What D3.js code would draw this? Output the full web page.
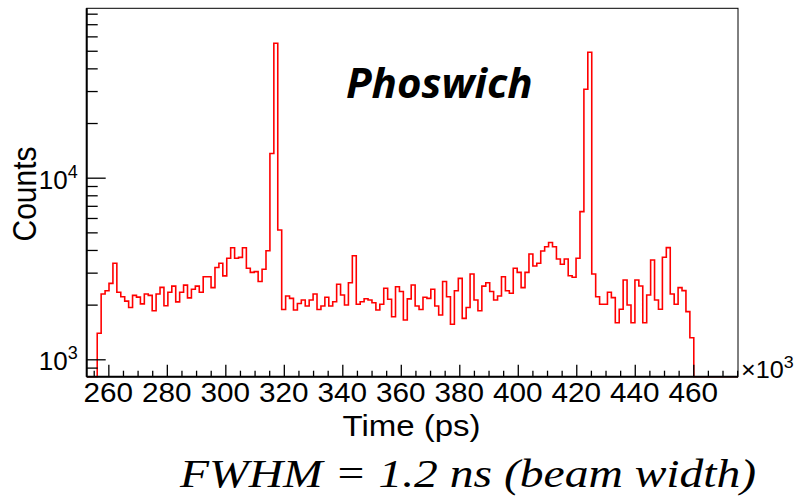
<!DOCTYPE html>
<html>
<head>
<meta charset="utf-8">
<script src="https://cdn.jsdelivr.net/npm/d3@7"></script>
<style>
  html, body { margin: 0; padding: 0; background: #fff; }
  #chart { width: 800px; height: 498px; }
</style>
</head>
<body>
<div id="chart"></div>
<script>
// Phoswich timing histogram, log-scale counts vs time (ps, x10^3).
// Bins: 152 equal bins starting at 256.2.

const binStart = 256.2;
const binWidth = 1.342;

const counts = [
  // rising edge up to first peak
  1390,2290,2385,2620,3380,2340,2210,2090,1930,2250,
  2200,2020,2290,2250,1850,2290,2490,1970,2340,2530,
  2070,2340,2560,2180,2430,2530,2340,2850,2850,2480,
  3200,3380,2880,3600,4110,3600,3640,4110,3170,3010,
  3040,2680,3130,3960,13600,55000,5150,
  // flat middle
  1880,2230,2165,1870,2030,2120,1965,2120,2290,1880,
  1965,2195,1965,2075,2590,2260,1990,2640,3720,2010,
  2075,2155,2120,2050,1870,2010,2460,2140,1715,2510,
  2360,1645,2150,2565,1965,1880,2195,2165,2430,1965,
  1755,2680,2210,1560,2385,2790,1680,1930,2950,2120,
  1850,2530,2640,2360,2120,2230,2850,2385,2310,3170,
  3010,2480,3010,
  // bump before second peak
  3800,3265,3380,3945,4170,4400,4170,3565,3335,3565,
  2885,2830,3600,
  // second peak
  6500,30700,49100,
  // tail
  2950,2210,2010,2010,2340,2185,1590,1885,2735,1990,
  1590,2735,2535,1590,2260,3525,2120,1885,3650,4120,
  2290,2010,2480,2390,1830,1315
];

const xDomain = [252.6, 475.3];
const yDomain = [802, 85650];
const xMajorTicks = [260, 280, 300, 320, 340, 360, 380, 400, 420, 440, 460];
const yMajorTicks = [1000, 10000];
const yTickExponents = ["3", "4"];

const xTitle = "Time (ps)";
const yTitle = "Counts";
const plotLabel = "Phoswich";
const footnote = "FWHM = 1.2 ns (beam width)";

const width  = 800;
const height = 498;
const margin = { top: 8.3, right: 62, bottom: 121.3, left: 86.7 };
const plotW  = width - margin.left - margin.right;
const plotH  = height - margin.top - margin.bottom;

// the source picture is stretched sideways a little, text too
const sx = 1.1;

const x = d3.scaleLinear().domain(xDomain).range([0, plotW]);
const y = d3.scaleLog().domain(yDomain).range([plotH, 0]);

const svg = d3.select("#chart").append("svg")
  .attr("width", width)
  .attr("height", height);

svg.append("rect").attr("width", width).attr("height", height).attr("fill", "#fff");

const g = svg.append("g").attr("transform", `translate(${margin.left},${margin.top})`);

g.append("clipPath").attr("id", "plotclip")
  .append("rect").attr("x", 0).attr("y", 0).attr("width", plotW).attr("height", plotH + 1);

// histogram as a step line, empty bins sit on the bottom of the frame
const steps = [[xDomain[0], yDomain[0]]];
counts.forEach((c, i) => steps.push([binStart + i * binWidth, Math.max(c, yDomain[0])]));
steps.push([binStart + counts.length * binWidth, yDomain[0]]);
steps.push([xDomain[1], yDomain[0]]);

const line = d3.line()
  .x(d => x(d[0]))
  .y(d => y(d[1]))
  .curve(d3.curveStepAfter);

g.append("path")
  .datum(steps)
  .attr("clip-path", "url(#plotclip)")
  .attr("fill", "none")
  .attr("stroke", "#ff0000")
  .attr("stroke-width", 1.6)
  .attr("d", line);

// frame
g.append("rect")
  .attr("width", plotW).attr("height", plotH)
  .attr("fill", "none").attr("stroke", "#000").attr("stroke-width", 1);

// y ticks, pointing inwards
const yMinor = [];
[100, 1000, 10000].forEach(dec => {
  for (let k = 2; k <= 9; k++) {
    const v = dec * k;
    if (v > yDomain[0] && v < yDomain[1]) yMinor.push(v);
  }
});

function styleAxis(sel) {
  sel.select(".domain").remove();
  sel.selectAll(".tick line").attr("stroke", "#000").attr("stroke-width", 1.3);
  sel.selectAll(".tick text").remove();
}

g.append("g")
  .call(d3.axisLeft(y).tickValues(yMinor).tickSize(-11).tickFormat(""))
  .call(styleAxis);
g.append("g")
  .call(d3.axisLeft(y).tickValues(yMajorTicks).tickSize(-19).tickFormat(""))
  .call(styleAxis);

// x ticks, pointing up
const xMinor = d3.range(255, 476, 5).filter(v => v % 20 !== 0);
g.append("g").attr("transform", `translate(0,${plotH})`)
  .call(d3.axisBottom(x).tickValues(xMinor).tickSize(-6).tickFormat(""))
  .call(styleAxis);
g.append("g").attr("transform", `translate(0,${plotH})`)
  .call(d3.axisBottom(x).tickValues(xMajorTicks).tickSize(-12).tickFormat(""))
  .call(styleAxis);

// thick axis lines
g.append("line").attr("x1", 0).attr("x2", 0).attr("y1", 0).attr("y2", plotH)
  .attr("stroke", "#000").attr("stroke-width", 2);
g.append("line").attr("x1", 0).attr("x2", plotW).attr("y1", plotH).attr("y2", plotH)
  .attr("stroke", "#000").attr("stroke-width", 2);

const sans = "'Liberation Sans', Arial, Helvetica, sans-serif";

function putText(parent, px, py, str, opts) {
  const t = parent.append("text")
    .attr("transform", `translate(${px},${py}) scale(${opts.sx || 1},1)` + (opts.rotate ? ` rotate(${opts.rotate})` : ""))
    .attr("text-anchor", opts.anchor || "start")
    .attr("font-family", opts.family || sans)
    .attr("font-size", opts.size + "px")
    .attr("fill", "#000");
  if (opts.weight) t.attr("font-weight", opts.weight);
  if (opts.italic) t.attr("font-style", "italic");
  if (str !== null) t.text(str);
  return t;
}

// x tick labels
xMajorTicks.forEach(v => {
  putText(g, x(v), plotH + 25, String(v), { anchor: "middle", size: 27, sx: sx });
});

// y tick labels as 10^n
yMajorTicks.forEach((v, i) => {
  const t = putText(g, -9, y(v) + 11, null, { anchor: "end", size: 26, sx: 1.0 });
  t.append("tspan").text("10");
  t.append("tspan").attr("dy", -11).attr("font-size", "18px").text(yTickExponents[i]);
});

// x10^3 multiplier
const mult = putText(g, plotW + 3, plotH + 1, null, { size: 24, sx: 1.05 });
mult.append("tspan").text("\u00d710");
mult.append("tspan").attr("dy", -10).attr("font-size", "17px").text("3");

// axis titles
putText(svg, 411.5, 436, xTitle, { anchor: "middle", size: 30, sx: sx });
putText(svg, 36, 194, yTitle, { anchor: "middle", size: 30, sx: 1.1, rotate: -90 });

// label inside the frame
putText(svg, 346, 98, plotLabel, { size: 42, weight: 700, italic: true, family: "'Open Sans', 'Noto Sans', sans-serif" });

// footnote under the chart
putText(svg, 180, 487, footnote, { size: 41, sx: 1.16, italic: true, family: "'Liberation Serif', 'Times New Roman', serif" });
</script>
</body>
</html>
